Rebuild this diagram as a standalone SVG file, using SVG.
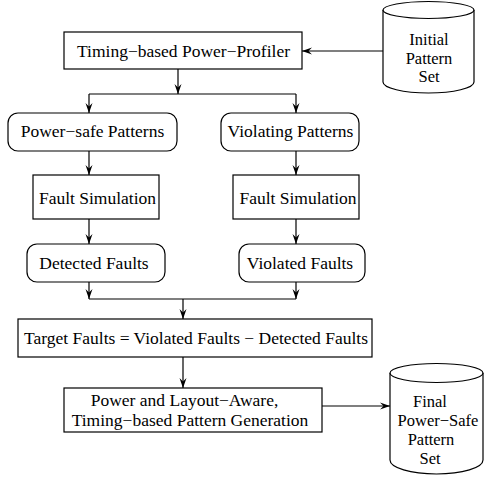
<svg xmlns="http://www.w3.org/2000/svg" width="484" height="477" viewBox="0 0 484 477">
<defs>
<style>
.b{fill:#fff;stroke:#000;stroke-width:1.2}
.l{fill:none;stroke:#000;stroke-width:1.2}
text{font-family:"Liberation Serif","Times New Roman",serif;font-size:17.5px;fill:#000;text-anchor:middle}
.c{font-size:16.5px}
</style>
<marker id="a" viewBox="-10 -5 11 10" markerWidth="11" markerHeight="10" refX="0" refY="0" orient="auto" markerUnits="userSpaceOnUse">
<path d="M0,0 L-10,-3.5 L-6.5,0 L-10,3.5 Z" fill="#000"/>
</marker>
</defs>
<rect width="484" height="477" fill="#fff"/>
<g id="connectors">
<path class="l" d="M383,51 H302" marker-end="url(#a)"/>
<path class="l" d="M178,69 V94" marker-end="url(#a)"/>
<path class="l" d="M89,94 H296"/>
<path class="l" d="M89,94 V113" marker-end="url(#a)"/>
<path class="l" d="M296,94 V113" marker-end="url(#a)"/>
<path class="l" d="M89,151 V175" marker-end="url(#a)"/>
<path class="l" d="M296,151 V175" marker-end="url(#a)"/>
<path class="l" d="M89,219 V244" marker-end="url(#a)"/>
<path class="l" d="M296,219 V244" marker-end="url(#a)"/>
<path class="l" d="M89,282 V299" marker-end="url(#a)"/>
<path class="l" d="M296,282 V299" marker-end="url(#a)"/>
<path class="l" d="M89,299 H296"/>
<path class="l" d="M183,299 V319" marker-end="url(#a)"/>
<path class="l" d="M183,357 V388" marker-end="url(#a)"/>
<path class="l" d="M322,406 H390" marker-end="url(#a)"/>
</g>
<g id="initial">
<path class="b" d="M383,10 V82 A45.5,11 0 0 0 474,82 V10"/>
<ellipse class="b" cx="428.5" cy="10" rx="45.5" ry="8.5"/>
<text class="c" x="429" y="45">Initial</text>
<text class="c" x="429" y="63.5">Pattern</text>
<text class="c" x="429" y="82">Set</text>
</g>
<g id="profiler">
<rect class="b" x="64" y="32" width="238" height="37"/>
<text x="183.5" y="57">Timing−based Power−Profiler</text>
</g>
<g id="powersafe">
<rect class="b" x="8" y="113" width="169" height="38" rx="10"/>
<text x="92.5" y="137">Power−safe Patterns</text>
</g>
<g id="violating">
<rect class="b" x="221" y="113" width="138" height="38" rx="10"/>
<text x="290.5" y="137">Violating Patterns</text>
</g>
<g id="faultsim1">
<rect class="b" x="33" y="175" width="126" height="44"/>
<text x="97.5" y="204">Fault Simulation</text>
</g>
<g id="faultsim2">
<rect class="b" x="233" y="175" width="126" height="44"/>
<text x="298" y="204">Fault Simulation</text>
</g>
<g id="detected">
<rect class="b" x="27" y="244" width="138" height="38" rx="10"/>
<text x="94" y="269">Detected Faults</text>
</g>
<g id="violated">
<rect class="b" x="239" y="244" width="126" height="38" rx="10"/>
<text x="300" y="269">Violated Faults</text>
</g>
<g id="target">
<rect class="b" x="18" y="319" width="354" height="38"/>
<text x="196" y="344">Target Faults = Violated Faults − Detected Faults</text>
</g>
<g id="generation">
<rect class="b" x="64" y="388" width="258" height="44"/>
<text x="184.5" y="406">Power and Layout−Aware,</text>
<text x="190" y="426">Timing−based Pattern Generation</text>
</g>
<g id="final">
<path class="b" d="M390,373 V460 A46.5,14 0 0 0 483,460 V373"/>
<ellipse class="b" cx="436.5" cy="373" rx="46.5" ry="9.5"/>
<text class="c" x="430" y="407">Final</text>
<text class="c" x="438" y="426">Power−Safe</text>
<text class="c" x="431" y="445">Pattern</text>
<text class="c" x="430" y="464">Set</text>
</g>
</svg>
